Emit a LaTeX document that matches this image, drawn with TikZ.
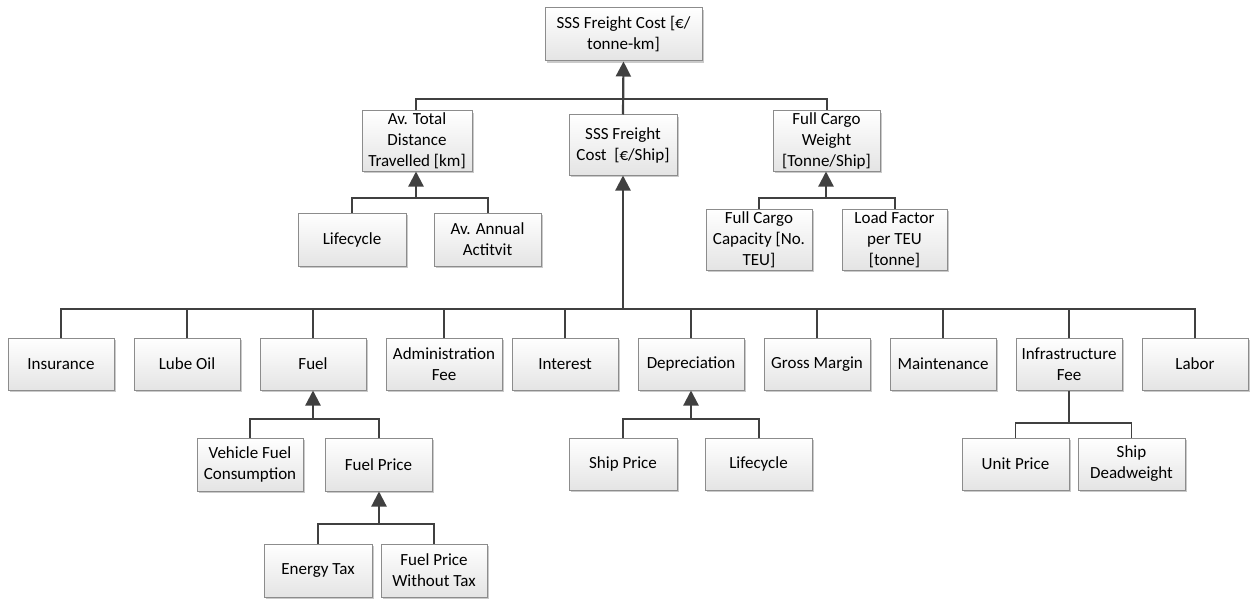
\documentclass[tikz,border=0pt]{standalone}
\usepackage{fontspec}
\setmainfont{Carlito}
\usetikzlibrary{arrows.meta,shadows}
\definecolor{linec}{HTML}{404040}
\definecolor{edgec}{HTML}{8C8C8C}
\definecolor{shadec}{HTML}{E4E4E4}
\tikzset{
  box/.style={draw=edgec, line width=1pt, top color=white, bottom color=shadec,
    drop shadow={shadow xshift=2pt, shadow yshift=-2pt, fill=black!35, opacity=0.6},
    inner sep=0pt, align=center, font=\fontsize{17}{21}\selectfont,
    minimum width=106pt, minimum height=52pt},
  link/.style={draw=linec, line width=2pt},
  thin link/.style={draw=linec, line width=1.2pt},
  arr/.style={draw=linec, line width=2.2pt, -{Triangle[width=15pt,length=15pt]}, color=linec},
}
\begin{document}
\begin{tikzpicture}[x=1pt, y=-1pt]
\useasboundingbox (0,0) rectangle (1250,599);

% top level
\node[box, minimum width=157pt, minimum height=53pt] (top) at (623.5,34.5) {SSS Freight Cost [€/\\tonne-km]};

% second level
\node[box, minimum width=110pt, minimum height=60pt] (dist) at (417,141) {Av. Total\\Distance\\Travelled [km]};
\node[box, minimum width=108pt, minimum height=60pt] (ship) at (623,145) {SSS Freight\\Cost\ \ [€/Ship]};
\node[box, minimum width=107pt, minimum height=60pt] (cargo) at (826.5,141) {Full Cargo\\Weight\\{}[Tonne/Ship]};

% inputs of distance and cargo weight
\node[box, minimum width=108pt, minimum height=53pt] (lifeA) at (352,239.5) {Lifecycle};
\node[box, minimum width=107pt, minimum height=53pt] (annual) at (487.5,239.5) {Av. Annual\\Actitvit};
\node[box, minimum width=106pt, minimum height=61pt] (cap) at (759,239.5) {Full Cargo\\Capacity [No.\\TEU]};
\node[box, minimum width=105pt, minimum height=61pt] (load) at (894.5,239.5) {Load Factor\\per TEU\\{}[tonne]};

% cost components
\node[box] (ins) at (61,364) {Insurance};
\node[box] (lube) at (187,364) {Lube Oil};
\node[box] (fuel) at (313,364) {Fuel};
\node[box, minimum width=116pt] (admin) at (444,364) {Administration\\Fee};
\node[box] (interest) at (565,364) {Interest};
\node[box] (dep) at (691,364) {Depreciation};
\node[box] (gross) at (817,364) {Gross Margin};
\node[box] (maint) at (943,364) {Maintenance};
\node[box] (infra) at (1069,364) {Infrastructure\\Fee};
\node[box] (labor) at (1195,364) {Labor};

% fuel inputs
\node[box, minimum height=53pt] (vfc) at (250,464.5) {Vehicle Fuel\\Consumption};
\node[box, minimum width=107pt, minimum height=53pt] (fprice) at (378.5,464.5) {Fuel Price};
\node[box, minimum width=108pt, minimum height=53pt] (etax) at (318,570.5) {Energy Tax};
\node[box, minimum height=53pt] (fpwt) at (434,570.5) {Fuel Price\\Without Tax};

% depreciation inputs
\node[box, minimum width=108pt] (sprice) at (623,464) {Ship Price};
\node[box, minimum width=107pt] (lifeB) at (758.5,464) {Lifecycle};

% infrastructure fee inputs
\node[box, minimum width=107pt] (unit) at (1015.5,464) {Unit Price};
\node[box, minimum width=107pt] (dead) at (1131.5,464) {Ship\\Deadweight};

% bus junctions
\coordinate (topbus) at (623,99);
\coordinate (distbus) at (416,198);
\coordinate (cargobus) at (826,198);
\coordinate (mainbus) at (623,309);
\coordinate (fuelbus) at (313,419);
\coordinate (fpbus) at (379,524);
\coordinate (depbus) at (691,419);
\coordinate (infrabus) at (1069,423);

% connectors
\draw[link] (dist.north -| distbus) |- (topbus) -| (cargo.north);
\draw[arr] (ship.north) -- (top.south);

\draw[link] (lifeA.north) |- (distbus) -| (annual.north);
\draw[arr] (distbus) -- (dist.south -| distbus);
\draw[link] (cap.north) |- (cargobus) -| (load.north);
\draw[arr] (cargobus) -- (cargo.south -| cargobus);

\draw[link] (ins.north) |- (labor.north |- mainbus) -- (labor.north);
\foreach \n in {lube,fuel,admin,interest,dep,gross,maint,infra}
  \draw[link] (\n.north) -- (\n.north |- mainbus);
\draw[arr] (mainbus) -- (ship.south);

\draw[link] (vfc.north) |- (fuelbus) -| (fprice.north);
\draw[arr] (fuelbus) -- (fuel.south);
\draw[link] (etax.north) |- (fpbus) -| (fpwt.north);
\draw[arr] (fpbus) -- (fprice.south -| fpbus);

\draw[link] (sprice.north) |- (depbus) -| (lifeB.north);
\draw[arr] (depbus) -- (dep.south);

\draw[thin link] (infra.south) -- (infrabus);
\draw[thin link] (unit.north) |- (infrabus) -| (dead.north);
\end{tikzpicture}
\end{document}
